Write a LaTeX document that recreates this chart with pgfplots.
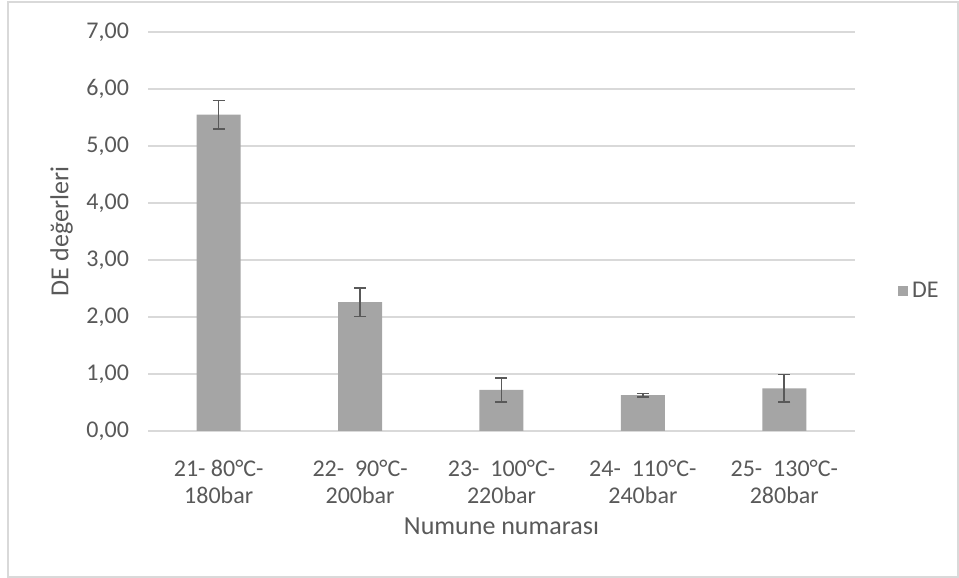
\documentclass[border=0pt]{standalone}
\usepackage{pgfplots}
\pgfplotsset{compat=1.18}
\usepackage{fontspec}
\setmainfont{Carlito}
\definecolor{barc}{HTML}{A5A5A5}
\definecolor{errc}{HTML}{595959}
\definecolor{txtc}{HTML}{595959}
\definecolor{gridc}{HTML}{D9D9D9}

\begin{document}
\begin{tikzpicture}
  % chart area, 959 x 578 px at 0.5pt per px
  \path[use as bounding box] (0pt,0pt) rectangle (479.5pt,289pt);
  \draw[gridc,line width=0.6pt] (4pt,0.5pt) rectangle (479pt,288pt);
  \begin{axis}[
    at={(74pt,73.5pt)}, anchor=origin,
    scale only axis,
    width=353.5pt, height=199.5pt,
    ymin=0, ymax=7, ytick={0,1,...,7},
    xmin=0, xmax=5,
    xtick=data,
    xticklabels={{21- 80°C-\\180bar},{22-\ \ 90°C-\\200bar},{23-\ \ 100°C-\\220bar},{24-\ \ 110°C-\\240bar},{25-\ \ 130°C-\\280bar}},
    xticklabel style={align=center, font=\fontsize{12}{13.5}\selectfont, text=txtc, yshift=-11pt},
    yticklabel style={font=\fontsize{12}{14}\selectfont, text=txtc, xshift=-6pt,
      /pgf/number format/.cd, fixed, fixed zerofill, precision=2, use comma, assume math mode=true},
    axis line style={draw=none},
    major tick length=0pt,
    ymajorgrids, grid style={gridc, line width=0.6pt},
    extra y ticks={0}, extra y tick labels={},
    extra y tick style={grid style={gridc,line width=1pt}},
    xlabel={Numune numarası},
    ylabel={DE değerleri},
    label style={font=\fontsize{13}{15.5}\selectfont, text=txtc},
    xlabel style={yshift=0pt},
    legend style={at={(1.052,0.351)}, anchor=west, draw=none, fill=none,
      font=\fontsize{12}{14}\selectfont, text=txtc},
    legend image code/.code={\fill[barc] (0pt,-2.5pt) rectangle (5pt,2.5pt);},
  ]
    \addplot[ybar, bar width=22pt, fill=barc, draw=none,
      error bars/.cd, y dir=both, y explicit,
      error bar style={errc, line width=0.8pt},
      error mark options={errc, rotate=90, mark size=3pt, line width=0.8pt}]
      coordinates {
        (0.5,5.55) +- (0,0.25)
        (1.5,2.26) +- (0,0.25)
        (2.5,0.72) +- (0,0.21)
        (3.5,0.63) +- (0,0.03)
        (4.5,0.75) +- (0,0.24)
      };
    \legend{DE}
  \end{axis}
\end{tikzpicture}
\end{document}
